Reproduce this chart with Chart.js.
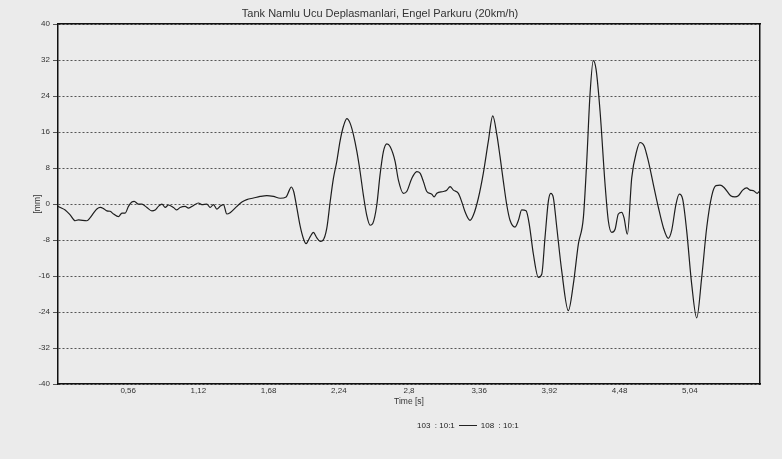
<!DOCTYPE html>
<html>
<head>
<meta charset="utf-8">
<script src="https://cdn.jsdelivr.net/npm/chart.js@4/dist/chart.umd.min.js"></script>
<style>
  html, body { margin: 0; padding: 0; background: #ebebeb; }
  #wrap { position: relative; width: 782px; height: 459px; }
  #legend {
    position: absolute; left: 417px; top: 421px;
    font: 8px "Liberation Sans", Arial, sans-serif; color: #222;
    white-space: nowrap;
  }
  #legend .ln { display: inline-block; width: 18px; border-top: 1px solid #222; vertical-align: middle; margin: 0 4px; }
</style>
</head>
<body>
<div id="wrap">
  <canvas id="myChart" width="782" height="459"></canvas>
  <div id="legend">103 &nbsp;: 10:1<span class="ln"></span>108 &nbsp;: 10:1</div>
</div>
<script>
// time [s] and displacement [mm]
var times = [
  0.000, 0.018, 0.057, 0.097, 0.137, 0.163, 0.230, 0.257, 0.283, 0.310,
  0.337, 0.363, 0.390, 0.416, 0.443, 0.482, 0.510, 0.536, 0.562, 0.589,
  0.608, 0.642, 0.669, 0.709, 0.749, 0.775, 0.801, 0.829, 0.855, 0.881,
  0.921, 0.948, 0.974, 1.014, 1.041, 1.081, 1.120, 1.148, 1.187, 1.214,
  1.240, 1.267, 1.293, 1.320, 1.347, 1.373, 1.427, 1.467, 1.506, 1.559,
  1.612, 1.666, 1.719, 1.772, 1.820, 1.844, 1.860, 1.880, 1.900, 1.931,
  1.958, 1.979, 2.011, 2.037, 2.065, 2.091, 2.112, 2.144, 2.171, 2.197,
  2.224, 2.250, 2.277, 2.304, 2.330, 2.357, 2.384, 2.410, 2.436, 2.463,
  2.490, 2.511, 2.543, 2.569, 2.596, 2.623, 2.649, 2.689, 2.715, 2.755,
  2.782, 2.822, 2.862, 2.888, 2.915, 2.942, 2.982, 3.000, 3.022, 3.074,
  3.101, 3.128, 3.154, 3.194, 3.221, 3.247, 3.287, 3.313, 3.353, 3.393,
  3.433, 3.468, 3.501, 3.526, 3.553, 3.580, 3.606, 3.646, 3.673, 3.699,
  3.734, 3.760, 3.792, 3.832, 3.859, 3.885, 3.912, 3.931, 3.951, 3.979,
  4.018, 4.071, 4.111, 4.151, 4.191, 4.218, 4.244, 4.270, 4.292, 4.324,
  4.364, 4.390, 4.417, 4.444, 4.470, 4.497, 4.515, 4.542, 4.577, 4.617,
  4.643, 4.675, 4.709, 4.749, 4.789, 4.829, 4.868, 4.895, 4.930, 4.956,
  4.983, 5.015, 5.055, 5.095, 5.135, 5.175, 5.215, 5.249, 5.281, 5.313,
  5.366, 5.400, 5.427, 5.462, 5.494, 5.520, 5.546, 5.578, 5.600
];
var displacement = [
  -0.5, -0.75, -1.3, -2.4, -3.7, -3.5, -3.7, -3.0, -2.0, -1.1,
  -0.75, -1.0, -1.5, -1.6, -2.2, -2.8, -2.0, -2.0, -0.5, 0.45,
  0.6, 0.0, 0.0, -0.75, -1.5, -1.3, -0.5, 0.0, -0.75, -0.2,
  -0.75, -1.3, -0.75, -0.5, -0.9, -0.3, 0.25, -0.1, 0.0, -0.75,
  -0.1, -1.1, -0.5, -0.1, -2.2, -1.9, -0.5, 0.45, 1.0, 1.35,
  1.7, 1.9, 1.7, 1.3, 1.6, 3.0, 3.8, 2.8, 0.0, -4.8,
  -7.7, -8.8, -7.3, -6.3, -7.5, -8.3, -8.1, -5.4, 0.5, 5.7,
  9.5, 14.0, 17.3, 19.0, 18.0, 15.4, 11.7, 7.2, 2.0, -2.5,
  -4.7, -4.3, -0.2, 6.5, 11.7, 13.4, 12.8, 9.5, 5.4, 2.4,
  2.8, 5.7, 7.2, 6.9, 5.0, 2.8, 2.2, 1.6, 2.4, 2.8,
  3.1, 3.9, 3.1, 2.4, 0.5, -1.7, -3.6, -2.5, 1.3, 6.9,
  14.0, 19.6, 15.4, 10.6, 5.0, -0.2, -3.6, -5.1, -3.6, -1.3,
  -1.5, -4.6, -11.1, -16.3, -15.6, -7.4, 0.7, 2.4, 1.5, -5.2,
  -14.8, -23.7, -17.8, -8.9, -3.0, 9.6, 24.4, 31.9, 30.0, 20.7,
  4.4, -3.7, -6.3, -5.6, -2.2, -1.85, -3.0, -6.7, 5.9, 11.9,
  13.7, 13.0, 9.6, 4.4, -0.7, -5.2, -7.6, -5.9, 0.0, 2.2,
  1.1, -5.9, -17.8, -25.3, -16.3, -5.2, 1.85, 4.1, 4.2, 3.7,
  1.85, 1.6, 1.85, 3.1, 3.6, 3.1, 3.0, 2.4, 3.0
];
var xTicks = [0.56, 1.12, 1.68, 2.24, 2.8, 3.36, 3.92, 4.48, 5.04];
var yTicks = [-40, -32, -24, -16, -8, 0, 8, 16, 24, 32, 40];

var points = times.map(function (t, i) { return { x: t, y: displacement[i] }; });

var font = "'Liberation Sans', Arial, sans-serif";
var ctx = document.getElementById("myChart").getContext("2d");

var myChart = new Chart(ctx, {
    type: "line",
    data: {
        datasets: [{
            label: "108 : 10:1",
            data: points,
            borderColor: "#1e1e1e",
            borderWidth: 1.2,
            pointRadius: 0,
            cubicInterpolationMode: "monotone",
            fill: false
        }]
    },
    options: {
        responsive: false,
        animation: false,
        layout: { padding: { left: 0, right: 22, top: 0, bottom: 0 } },
        plugins: {
            legend: { display: false },
            tooltip: { enabled: false },
            title: {
                display: true,
                text: "Tank Namlu Ucu Deplasmanlari, Engel Parkuru (20km/h)",
                color: "#333",
                font: { family: font, size: 11, weight: "normal" },
                padding: { top: 7, bottom: 4 }
            }
        },
        scales: {
            x: {
                type: "linear",
                min: 0,
                max: 5.6,
                afterBuildTicks: function (scale) {
                    scale.ticks = xTicks.map(function (v) { return { value: v }; });
                },
                afterFit: function (scale) { scale.height = 75; },
                ticks: {
                    padding: 2,
                    color: "#333",
                    font: { family: font, size: 8 },
                    maxRotation: 0,
                    callback: function (v) { return String(v).replace(".", ","); }
                },
                grid: { display: false, drawTicks: false },
                border: { display: true, color: "#111", width: 1.5 },
                title: {
                    display: true,
                    text: "Time [s]",
                    color: "#333",
                    font: { family: font, size: 8.5 },
                    padding: { top: 0, bottom: 52 }
                }
            },
            y: {
                min: -40,
                max: 40,
                afterBuildTicks: function (scale) {
                    scale.ticks = yTicks.map(function (v) { return { value: v }; });
                },
                afterFit: function (scale) { scale.width = 58; },
                ticks: {
                    padding: 3,
                    color: "#333",
                    font: { family: font, size: 8 },
                    callback: function (v) { return String(v); }
                },
                grid: { color: "#555", lineWidth: 1, tickLength: 5, tickColor: "#555" },
                border: { display: true, color: "#111", width: 1.5, dash: [2, 2] },
                title: {
                    display: true,
                    text: "[mm]",
                    color: "#333",
                    font: { family: font, size: 8.5 },
                    padding: { top: 33, bottom: 0 }
                }
            },
            xTop: {
                type: "linear",
                position: "top",
                afterFit: function (scale) { scale.height = 0; },
                ticks: { display: false },
                grid: { display: false, drawTicks: false },
                border: { display: true, color: "#111", width: 1.5 }
            },
            yRight: {
                type: "linear",
                position: "right",
                afterFit: function (scale) { scale.width = 0; },
                ticks: { display: false },
                grid: { display: false, drawTicks: false },
                border: { display: true, color: "#111", width: 1.5 }
            }
        }
    }
});
</script>
</body>
</html>
